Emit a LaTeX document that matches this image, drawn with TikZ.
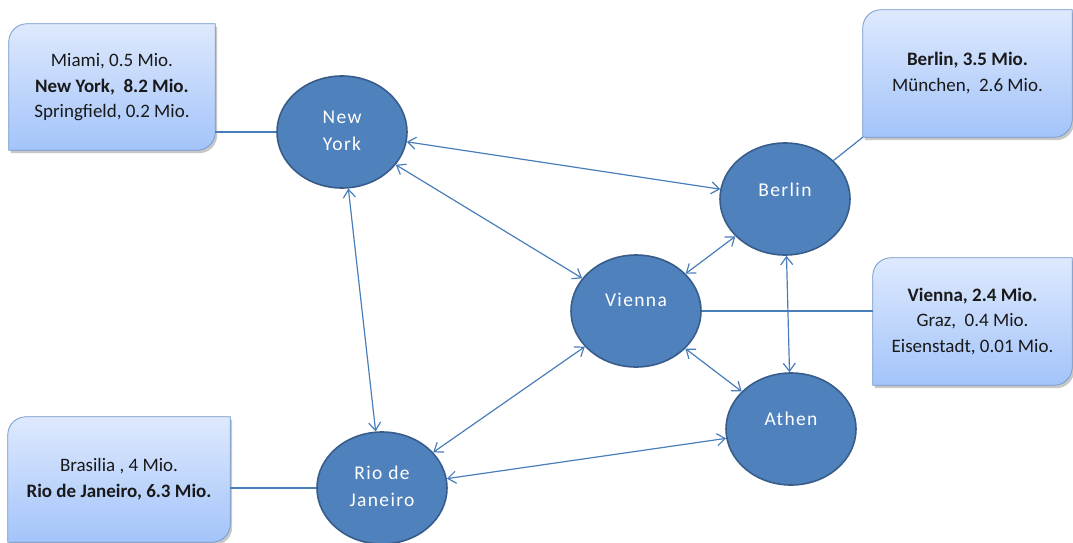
\documentclass[tikz,border=0pt]{standalone}
\usepackage{fontspec}
\setmainfont{Carlito}
\usetikzlibrary{arrows.meta,shapes.geometric,shadows,backgrounds}

\definecolor{cityfill}{HTML}{4F81BD}
\definecolor{cityline}{HTML}{385D8A}
\definecolor{linkblue}{HTML}{4A7EBB}
\definecolor{boxtop}{RGB}{222,233,253}
\definecolor{boxbottom}{RGB}{163,196,250}
\definecolor{boxline}{RGB}{122,160,216}

% centred block of lines, lifted a little inside its shape
\newcommand\liftlines[2]{\raisebox{#1}{\begin{tabular}{@{}c@{}}#2\end{tabular}}}

% info box: rounded at top-left and bottom-right only
\newcommand\infoshape[1]{%
  \fill[boxshape] (#1.south west) -- ([yshift=-18pt]#1.north west)
    arc[start angle=180,end angle=90,radius=18pt] -- (#1.north east)
    -- ([yshift=18pt]#1.south east)
    arc[start angle=0,end angle=-90,radius=18pt] -- cycle;}

\begin{document}
\begin{tikzpicture}[x=1pt,y=1pt,
  city/.style={ellipse, draw=cityline, line width=1.6pt, fill=cityfill,
    minimum width=130pt, minimum height=112pt, inner sep=0pt, text=white,
    font=\fontsize{19.5}{27}\selectfont\addfontfeature{LetterSpace=7}},
  infobox/.style={rectangle, inner sep=0pt, text=black!90,
    font=\fontsize{19}{25.5}\selectfont},
  boxshape/.style={top color=boxtop, bottom color=boxbottom, draw=boxline,
    line width=0.8pt,
    drop shadow={fill=black, opacity=0.22, shadow xshift=2pt, shadow yshift=-3pt}},
  link/.style={draw=linkblue, line width=1.2pt,
    {Straight Barb[length=8pt,width=12pt]}-{Straight Barb[length=8pt,width=12pt]}},
  tie/.style={draw=linkblue, line width=1.2pt}]

\useasboundingbox (0,0) rectangle (1073,-543);

% cities
\node[city] (ny) at (342,-132) {\liftlines{6pt}{New\\York}};
\node[city] (be) at (785,-199) {\liftlines{24pt}{Berlin}};
\node[city] (vi) at (636,-311) {\liftlines{28pt}{Vienna}};
\node[city] (at) at (791,-429) {\liftlines{26pt}{Athen}};
\node[city] (ri) at (382,-488) {\liftlines{3pt}{Rio de\\Janeiro}};

% population boxes
\node[infobox, minimum width=206pt, minimum height=126pt] (nyb) at (112,-87)
  {\liftlines{14pt}{Miami, 0.5 Mio.\\\textbf{New York,\ \ 8.2 Mio.}\\Springfield, 0.2 Mio.}};
\node[infobox, minimum width=209pt, minimum height=127pt] (bb) at (967.5,-73.5)
  {\liftlines{1pt}{\textbf{Berlin, 3.5 Mio.}\\München,\ \ 2.6 Mio.}};
\node[infobox, minimum width=199pt, minimum height=127pt] (vb) at (972.5,-321.5)
  {\liftlines{8pt}{\textbf{Vienna, 2.4 Mio.}\\Graz,\ \ 0.4 Mio.\\Eisenstadt, 0.01 Mio.}};
\node[infobox, minimum width=222pt, minimum height=125pt] (rb) at (119,-479.5)
  {\liftlines{5pt}{Brasilia , 4 Mio.\\\textbf{Rio de Janeiro, 6.3 Mio.}}};

\begin{pgfonlayer}{background}
  \infoshape{nyb}
  \infoshape{bb}
  \infoshape{vb}
  \infoshape{rb}
\end{pgfonlayer}

% boxes tied to their cities
\draw[tie] (ny.west) -- (ny.west -| nyb.east);
\draw[tie] (be) -- (bb.south west);
\draw[tie] (vi.east) -- (vi.east -| vb.west);
\draw[tie] (ri.west) -- (ri.west -| rb.east);

% connections between cities
\draw[link] (ny) -- (be);
\draw[link] (ny) -- (vi);
\draw[link] (ny) -- (ri);
\draw[link] (be) -- (vi);
\draw[link] (be) -- (at);
\draw[link] (vi) -- (at);
\draw[link] (vi) -- (ri);
\draw[link] (ri) -- (at);
\end{tikzpicture}
\end{document}
